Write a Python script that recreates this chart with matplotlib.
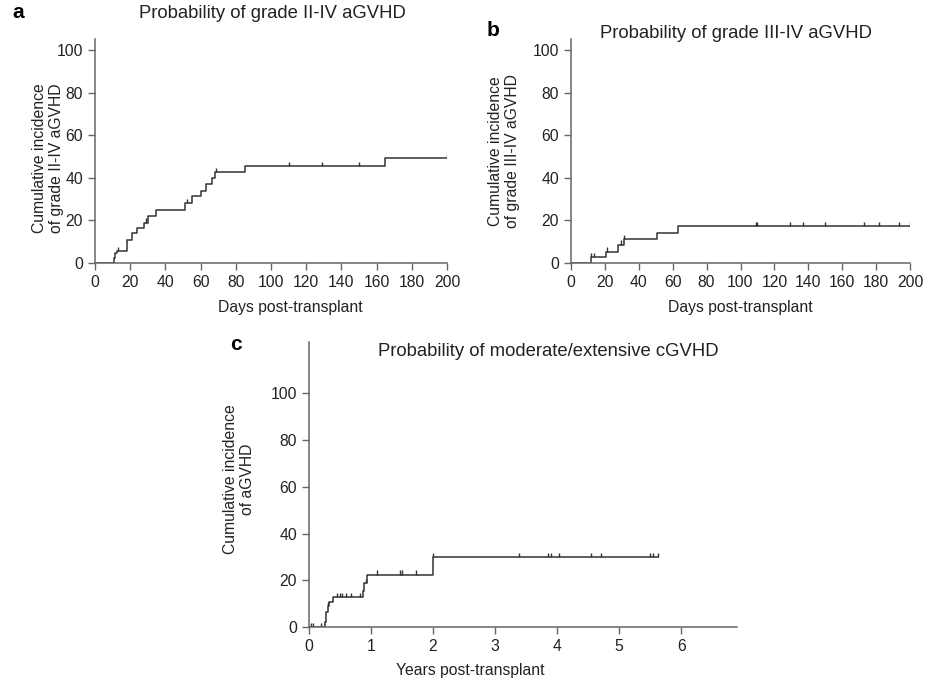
import matplotlib
matplotlib.use("Agg")
import matplotlib.pyplot as plt

plt.rcParams['font.family'] = ['Liberation Sans', 'DejaVu Sans']

# Panel a: grade II-IV aGVHD (days)
a_zaman = [11, 11.5, 12.5, 18, 21, 24, 28, 30, 34.5, 51, 55, 60, 63, 66.5, 68, 85, 165]
a_deger = [2.5, 4.5, 5.5, 11, 14, 16.5, 19, 22, 25, 28.2, 31.3, 34, 37, 40, 42.5, 45.6, 49.3]
a_sansur = [13, 29, 52, 68.5, 110, 129, 150, 200]
a_son = 200

# Panel b: grade III-IV aGVHD (days)
b_zaman = [12, 20.5, 28, 31, 51, 63]
b_deger = [2.6, 5.4, 8.6, 11.2, 14.2, 17.2]
b_sansur = [12, 13.5, 21, 29.5, 31, 109, 110, 129, 137, 150, 173, 182, 193.5, 200]
b_son = 200

# Panel c: moderate/extensive cGVHD (years)
c_zaman = [0.26, 0.27, 0.28, 0.30, 0.33, 0.39, 0.87, 0.89, 0.94, 2.0]
c_deger = [2.2, 4.4, 6.6, 8.8, 10.8, 12.8, 15.2, 18.7, 22.4, 29.8]
c_sansur = [0.03, 0.06, 0.19, 0.30, 0.45, 0.50, 0.53, 0.60, 0.68, 0.82, 0.92,
            1.1, 1.47, 1.50, 1.72, 2.0, 3.38, 3.85, 3.90, 4.03, 4.55, 4.70,
            5.50, 5.55, 5.63]
c_son = 5.63

yticks = [0, 20, 40, 60, 80, 100]
gun_ticks = list(range(0, 201, 20))
yil_ticks = list(range(0, 7))

CIZGI = '#333333'
EKSEN = '#666666'
YAZI = '#222222'
FS = 11.3
BASLIK_FS = 13.3


def deger_bul(zaman, deger, t):
    v = 0
    for z, d in zip(zaman, deger):
        if z <= t:
            v = d
    return v


def panel_ciz(ax, zaman, deger, sansur, son, tik_boy):
    xs = [0] + zaman + [son]
    ys = [0] + deger + [deger[-1]]
    ax.step(xs, ys, where='post', color=CIZGI, lw=1.1)
    for t in sansur:
        v = deger_bul(zaman, deger, t)
        ax.vlines(t, v, v + tik_boy, color=CIZGI, lw=1.0)
    for s in ['top', 'right']:
        ax.spines[s].set_visible(False)
    for s in ['left', 'bottom']:
        ax.spines[s].set_color(EKSEN)
        ax.spines[s].set_linewidth(1.1)
    ax.tick_params(colors=EKSEN, labelcolor=YAZI, labelsize=FS,
                   length=5, width=1.0, direction='out')
    ax.set_yticks(yticks)


fig = plt.figure(figsize=(9.34, 6.82), dpi=100)
fig.patch.set_facecolor('white')

W, H = 934.0, 682.0

# a
ax1 = fig.add_axes([95 / W, (H - 263) / H, 352 / W, 223.6 / H])
panel_ciz(ax1, a_zaman, a_deger, a_sansur, a_son, 2.0)
ax1.set_xlim(0, 200)
ax1.set_ylim(0, 105)
ax1.set_xticks(gun_ticks)
ax1.set_xlabel('Days post-transplant', fontsize=FS, color=YAZI)
ax1.set_ylabel('Cumulative incidence\nof grade II-IV aGVHD', fontsize=FS, color=YAZI)
ax1.xaxis.set_label_coords((290 - 95) / 352, -0.165)
ax1.yaxis.set_label_coords(-0.088, 0.47)
fig.text(272 / W, 1 - 13 / H, 'Probability of grade II-IV aGVHD', fontsize=BASLIK_FS,
         ha='center', va='center', color=YAZI)
fig.text(12 / W, 1 - 12 / H, 'a', fontsize=15, fontweight='bold', ha='left', va='center')

# b
ax2 = fig.add_axes([571 / W, (H - 263) / H, 339 / W, 223.6 / H])
panel_ciz(ax2, b_zaman, b_deger, b_sansur, b_son, 2.0)
ax2.set_xlim(0, 200)
ax2.set_ylim(0, 105)
ax2.set_xticks(gun_ticks)
ax2.set_xlabel('Days post-transplant', fontsize=FS, color=YAZI)
ax2.set_ylabel('Cumulative incidence\nof grade III-IV aGVHD', fontsize=FS, color=YAZI)
ax2.xaxis.set_label_coords(0.5, -0.165)
ax2.yaxis.set_label_coords(-0.150, 0.50)
fig.text(736 / W, 1 - 34 / H, 'Probability of grade III-IV aGVHD', fontsize=BASLIK_FS,
         ha='center', va='center', color=YAZI)
fig.text(487 / W, 1 - 31 / H, 'b', fontsize=15, fontweight='bold', ha='left', va='center')

# c
ax3 = fig.add_axes([309 / W, (H - 627) / H, 428 / W, 285 / H])
panel_ciz(ax3, c_zaman, c_deger, c_sansur, c_son, 1.8)
ax3.set_xlim(0, 6.9)
ax3.set_ylim(0, 122)
ax3.set_xticks(yil_ticks)
ax3.set_xlabel('Years post-transplant', fontsize=FS, color=YAZI)
ax3.set_ylabel('Cumulative incidence\nof aGVHD', fontsize=FS, color=YAZI)
ax3.xaxis.set_label_coords((470 - 309) / 428, -0.125)
ax3.yaxis.set_label_coords(-0.125, 0.52)
fig.text(548 / W, 1 - 352 / H, 'Probability of moderate/extensive cGVHD', fontsize=BASLIK_FS,
         ha='center', va='center', color=YAZI)
fig.text(230 / W, 1 - 344 / H, 'c', fontsize=15, fontweight='bold', ha='left', va='center')

plt.savefig('out.png', dpi=100, facecolor='white')
plt.close()
